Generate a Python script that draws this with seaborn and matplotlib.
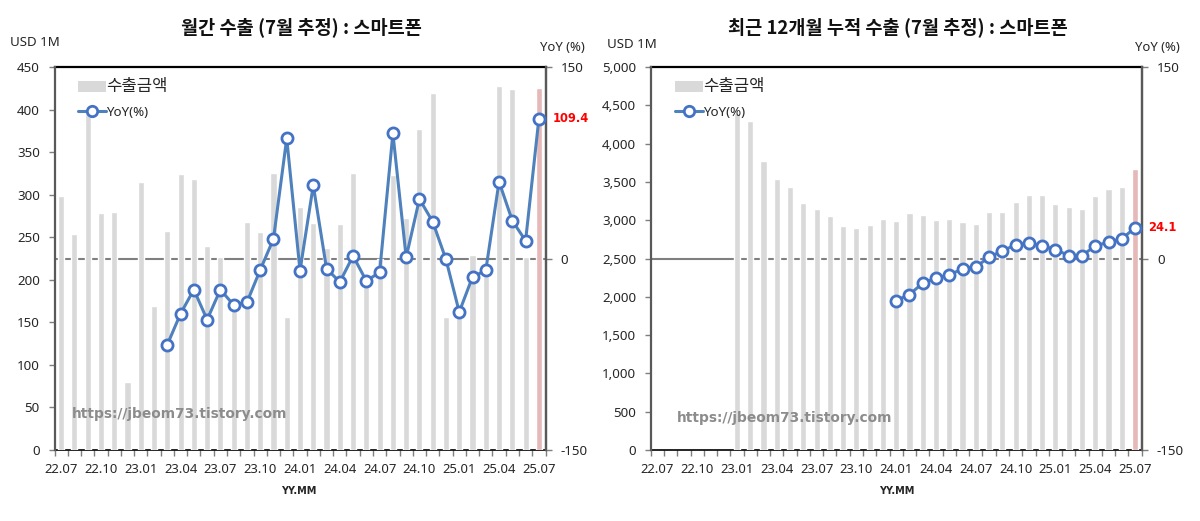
import numpy as np
import pandas as pd
import matplotlib
matplotlib.use("Agg")
import matplotlib.pyplot as plt
import seaborn as sns
from matplotlib.lines import Line2D
from matplotlib.patches import Patch

months = ["22.07","22.08","22.09","22.10","22.11","22.12","23.01","23.02","23.03","23.04","23.05","23.06",
          "23.07","23.08","23.09","23.10","23.11","23.12","24.01","24.02","24.03","24.04","24.05","24.06",
          "24.07","24.08","24.09","24.10","24.11","24.12","25.01","25.02","25.03","25.04","25.05","25.06","25.07"]
monthly_export = [298,254,400,279,280,80,315,169,257,324,318,240,227,172,268,256,325,156,285,267,237,265,326,196,
                  225,323,272,377,420,156,165,229,205,428,424,227,425]
monthly_yoy = [None]*8 + [-67.5,-43.2,-24.4,-47.9,-24.4,-36.4,-34.3,-9.0,15.3,94.1,-9.5,57.3,-8.0,-18.4,2.0,-17.6,
                          -10.8,98.0,0.9,46.6,28.8,-0.7,-41.9,-14.5,-9.3,60.1,29.6,13.9,109.4]
rolling_export = [None]*6 + [4400,4290,3771,3536,3438,3223,3145,3050,2923,2897,2936,3015,2988,3088,3063,3001,3015,
                             2975,2949,3110,3110,3236,3328,3328,3210,3171,3149,3315,3410,3432,3663]
rolling_yoy = [None]*18 + [-32.9,-28.2,-19.3,-15.4,-12.8,-8.1,-6.5,1.0,6.0,10.7,12.3,9.9,7.0,2.3,2.3,9.9,12.8,15.4,24.1]

title_left = "월간 수출 (7월 추정) : 스마트폰"
title_right = "최근 12개월 누적 수출 (7월 추정) : 스마트폰"
legend_bar = "수출금액"
legend_line = "YoY(%)"
watermark = "https://jbeom73.tistory.com"

sns.set_theme(style="white")
plt.rcParams["font.family"] = ["Noto Sans", "Noto Sans CJK KR", "DejaVu Sans"]

W, H = 1200, 521
fig = plt.figure(figsize=(W/100, H/100), dpi=100, facecolor="white")
GREY, HILITE, BLUE, EDGE = "#D9D9D9", "#E6B8B7", "#4F81BD", "#4472C4"
TXT = "#262626"


def panel(left, values, yoy, ymax, ystep, title, tcx, usd_x, usd_y, yoy_x, wm_x, wm_y, mm_x, leg_x):
    ax = fig.add_axes([left/W, (H-450)/H, 491/W, 383/H])
    df = pd.DataFrame({"m": months, "v": values})
    df["v"] = pd.to_numeric(df["v"])
    colors = {m: GREY for m in months}
    colors[months[-1]] = HILITE
    sns.barplot(data=df, x="m", y="v", hue="m", palette=colors, order=months, hue_order=months,
                width=0.46, legend=False, ax=ax, saturation=1, zorder=3)
    ax.axhline(ymax/2, color="#7F7F7F", lw=1.5, zorder=1)
    ax.set_xlim(-0.5, len(months)-0.5)
    ax.set_ylim(0, ymax)
    ax.set_xlabel(""); ax.set_ylabel("")
    ax.set_yticks(np.arange(0, ymax+1, ystep))
    ax.set_yticklabels([f"{v:,}" for v in np.arange(0, ymax+1, ystep)], fontsize=9.6, color=TXT)
    pos = np.arange(0, len(months), 3)
    ax.set_xticks(pos)
    ax.set_xticklabels([months[i] for i in pos], fontsize=9.4, color=TXT)
    ax.set_xticks(np.arange(-0.5, len(months)), minor=True)
    ax.tick_params(axis="x", which="major", length=0, pad=9.5, bottom=True)
    ax.tick_params(axis="x", which="minor", length=4, width=1, color="#7F7F7F", bottom=True)
    ax.tick_params(axis="y", length=4, width=1, color="#7F7F7F", pad=6.5, left=True)
    for s, c, lw in (("top", "black", 1.6), ("bottom", "black", 1.2), ("left", "#595959", 1.6), ("right", "#595959", 1.6)):
        ax.spines[s].set_visible(True); ax.spines[s].set_color(c); ax.spines[s].set_linewidth(lw)
    ax.spines["bottom"].set_zorder(1)
    ax.spines["left"].set_zorder(5)

    ax2 = ax.twinx()
    d2 = pd.DataFrame({"x": np.arange(len(months)), "y": pd.to_numeric(pd.Series(yoy))}).dropna()
    sns.lineplot(data=d2, x="x", y="y", ax=ax2, color=BLUE, lw=2.2, marker="o", ms=8, mfc="white",
                 mec=EDGE, mew=2.0, errorbar=None, sort=False, legend=False, zorder=6, clip_on=False)
    ax2.set_ylim(-150, 150)
    ax2.set_xlim(-0.5, len(months)-0.5)
    ax2.set_xlabel(""); ax2.set_ylabel("")
    ax2.set_yticks([-150, 0, 150])
    ax2.set_yticklabels(["-150", "0", "150"], fontsize=9.6, color=TXT, ha="left")
    ax2.tick_params(axis="y", length=4, width=1, color="#7F7F7F", pad=7, right=True, left=False)
    for s in ("top", "bottom", "left"):
        ax2.spines[s].set_visible(False)
    ax2.spines["right"].set_visible(True); ax2.spines["right"].set_color("#595959"); ax2.spines["right"].set_linewidth(1.6)

    last = d2["y"].iloc[-1]
    ax2.annotate(f"{last}", (d2["x"].iloc[-1], last), xytext=(9.6, 0), textcoords="offset points",
                 color="#FF0000", fontsize=8.3, fontweight="bold", va="center", ha="left",
                 family=["DejaVu Sans"], annotation_clip=False)

    handles = [Patch(facecolor=GREY, edgecolor="none"),
               Line2D([], [], color=BLUE, lw=2.2, marker="o", ms=7.5, mfc="white", mec=EDGE, mew=2.0)]
    leg = ax2.legend(handles, [legend_bar, legend_line], loc="upper left",
                     bbox_to_anchor=((leg_x-left)/491, (450-79)/383), frameon=False, borderpad=0, borderaxespad=0,
                     handlelength=2.1, handleheight=0.9, handletextpad=0.0, labelspacing=0.8, fontsize=9.6)
    leg.get_texts()[0].set_fontsize(12)
    leg.get_texts()[0].set_color(TXT)
    leg.get_texts()[1].set_color(TXT)

    fig.text(tcx/W, 1-27/H, title, ha="center", va="center", fontsize=13.4, fontweight="bold",
             family=["Noto Sans CJK KR", "DejaVu Sans"], color="#111111")
    fig.text(usd_x/W, 1-usd_y/H, "USD 1M", ha="left", va="center", fontsize=9.6, color=TXT)
    fig.text(yoy_x/W, 1-47/H, "YoY (%)", ha="left", va="center", fontsize=9.4, color=TXT)
    fig.text(mm_x/W, 1-491/H, "YY.MM", ha="center", va="center", fontsize=7, fontweight="bold",
             family=["DejaVu Sans"], color=TXT)
    fig.text(wm_x/W, 1-wm_y/H, watermark, ha="left", va="center", fontsize=9.9, fontweight="bold",
             family=["DejaVu Sans"], color="#8C8C8C", zorder=20)


panel(54.5, monthly_export, monthly_yoy, 450, 50, title_left, 301.5, 10, 43, 540, 72, 414, 298.5, 78)
panel(650.7, rolling_export, rolling_yoy, 5000, 500, title_right, 897.5, 607, 44, 1135, 677, 418, 896.5, 675)

fig.savefig("out.png", dpi=100, facecolor="white")
